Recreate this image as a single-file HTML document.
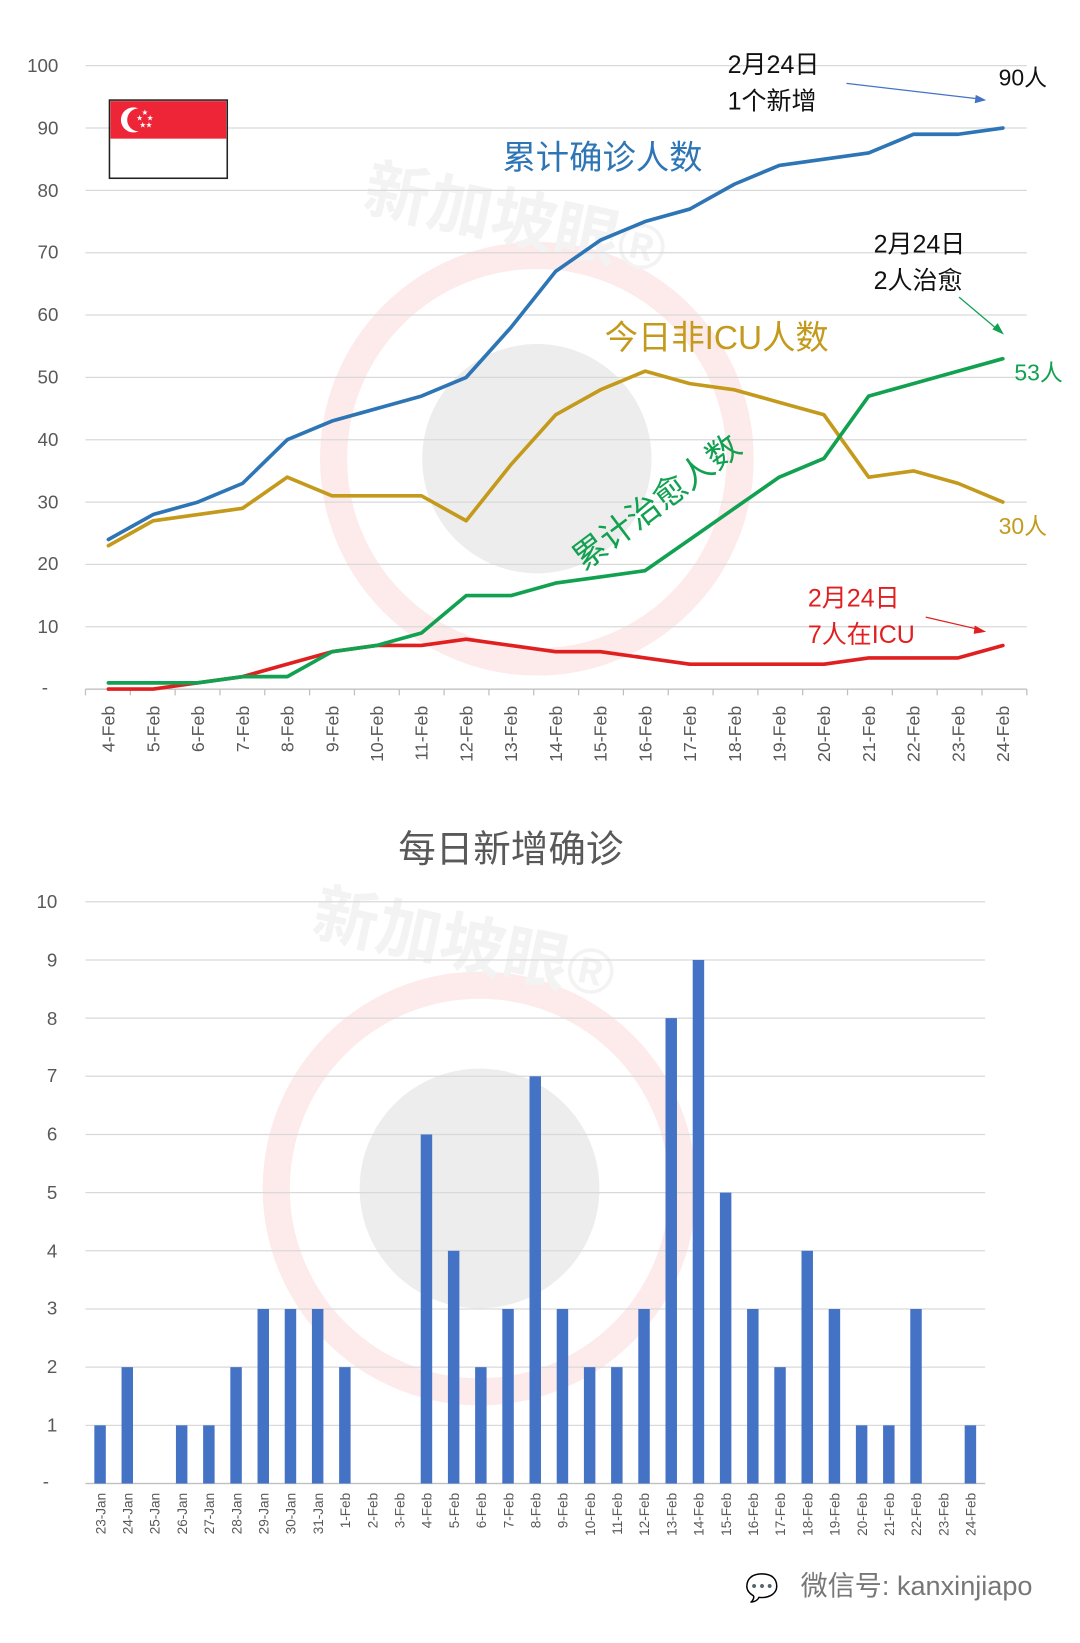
<!DOCTYPE html>
<html><head><meta charset="utf-8"><style>
html,body{margin:0;padding:0;background:#fff}
svg{display:block}
text{font-family:"Liberation Sans","Noto Sans CJK SC",sans-serif}
</style></head><body>
<svg id="s" width="1080" height="1643" viewBox="0 0 1036 1576" preserveAspectRatio="none" xmlns="http://www.w3.org/2000/svg">
<rect width="1036" height="1576" fill="#fff"/>
<!-- watermarks -->
<circle cx="515" cy="440" r="195" fill="none" stroke="#fdeaea" stroke-width="26"/>
<circle cx="515" cy="440" r="110" fill="#ededed"/>
<circle cx="460" cy="1140" r="195" fill="none" stroke="#fdeaea" stroke-width="26"/>
<circle cx="460" cy="1140" r="115" fill="#ededed"/>
<text x="350" y="235" font-size="62" font-weight="bold" fill="#f3f3f3" transform="rotate(12 510 200)">新加坡眼®</text>
<text x="300" y="930" font-size="62" font-weight="bold" fill="#f3f3f3" transform="rotate(12 460 900)">新加坡眼®</text>
<g id="grid" stroke="#d9d9d9" stroke-width="1.2"></g>
<g font-size="18" fill="#595959" text-anchor="end">
<text x="56" y="69">100</text><text x="56" y="129">90</text><text x="56" y="189">80</text><text x="56" y="248">70</text><text x="56" y="308">60</text><text x="56" y="368">50</text><text x="56" y="428">40</text><text x="56" y="488">30</text><text x="56" y="547">20</text><text x="56" y="607">10</text><text x="46" y="665">-</text>
</g>
<g id="xl1" font-size="17" fill="#595959" text-anchor="end"></g>
<!-- flag -->
<rect x="105" y="96" width="113" height="75" fill="#fff" stroke="#222" stroke-width="1.5"/>
<rect x="106" y="97" width="111" height="36" fill="#ee2536"/>
<circle cx="128" cy="115" r="12" fill="#fff"/><circle cx="133" cy="115" r="11" fill="#ee2536"/>
<g fill="#fff" font-size="6"><text x="136" y="110">★</text><text x="141" y="115">★</text><text x="131" y="115">★</text><text x="134" y="122">★</text><text x="140" y="122">★</text></g>
<g id="lines" fill="none" stroke-width="3" stroke-linejoin="round" stroke-linecap="round"></g>
<!-- annotations -->
<g font-size="24" fill="#111">
<text x="698" y="70">2月24日</text><text x="698" y="105">1个新增</text>
<text x="958" y="82" font-size="22">90人</text>
<text x="838" y="242">2月24日</text><text x="838" y="277">2人治愈</text>
</g>
<line x1="812" y1="80" x2="940" y2="95" stroke="#4472c4" stroke-width="1.2"/><polygon points="946,96 936,91 935,99" fill="#4472c4"/>
<line x1="920" y1="285" x2="958" y2="317" stroke="#12a150" stroke-width="1.2"/><polygon points="963,321 952,316 957,310" fill="#12a150"/>
<line x1="888" y1="592" x2="940" y2="604" stroke="#e02020" stroke-width="1.2"/><polygon points="946,606 935,600 934,608" fill="#e02020"/>
<text x="482" y="162" font-size="32" fill="#2e75b6">累计确诊人数</text>
<text x="580" y="335" font-size="32" fill="#c49a1c">今日非ICU人数</text>
<text x="973" y="365" font-size="22" fill="#12a150">53人</text>
<text x="958" y="512" font-size="22" fill="#c49a1c">30人</text>
<text x="775" y="582" font-size="24" fill="#e02020">2月24日</text><text x="775" y="617" font-size="24" fill="#e02020">7人在ICU</text>
<text x="560" y="548" font-size="32" fill="#12a150" transform="rotate(-37 560 548)">累计治愈人数</text>
<!-- bottom -->
<text x="490" y="827" font-size="36" fill="#595959" text-anchor="middle">每日新增确诊</text>
<g font-size="18" fill="#595959" text-anchor="middle">
<text x="45" y="871">10</text><text x="50" y="927">9</text><text x="50" y="983">8</text><text x="50" y="1038">7</text><text x="50" y="1094">6</text><text x="50" y="1150">5</text><text x="50" y="1206">4</text><text x="50" y="1261">3</text><text x="50" y="1317">2</text><text x="50" y="1373">1</text><text x="44" y="1427">-</text>
</g>
<g id="bars" fill="#4472c4"></g>
<g id="xl2" font-size="13" fill="#595959" text-anchor="end"></g>
<text x="715" y="1532" font-size="26" fill="#888">💬</text>
<text x="768" y="1530" font-size="26" fill="#777">微信号: kanxinjiapo</text>
</svg>
<script>
var NS="http://www.w3.org/2000/svg";
function el(t,a,p,txt){var e=document.createElementNS(NS,t);for(var k in a)e.setAttribute(k,a[k]);if(txt)e.textContent=txt;document.getElementById(p).appendChild(e);}
for(var i=0;i<=10;i++){var y=661-i*59.8;el("line",{x1:82,x2:985,y1:y,y2:y},"grid");}
for(var i=0;i<=10;i++){var y=1423-i*55.8;el("line",{x1:82,x2:945,y1:y,y2:y},"grid");}
el("line",{x1:82,x2:985,y1:661,y2:661,stroke:"#bfbfbf"},"grid");
for(var i=0;i<=21;i++){var x=82+i*43;el("line",{x1:x,x2:x,y1:661,y2:667,stroke:"#bfbfbf"},"grid");}
var d1=[];for(var i=4;i<=24;i++)d1.push(i+"-Feb");
d1.forEach(function(t,i){var x=104+i*42.9+6;el("text",{x:x,y:677,transform:"rotate(-90 "+x+" 677)"},"xl1",t);});
var S={"#2e75b6":[24,28,30,33,40,43,45,47,50,58,67,72,75,77,81,84,85,86,89,89,90],
"#c49a1c":[23,27,28,29,34,31,31,31,27,36,44,48,51,49,48,46,44,34,35,33,30],
"#e02020":[0,0,1,2,4,6,7,7,8,7,6,6,5,4,4,4,4,5,5,5,7],
"#12a150":[1,1,1,2,2,6,7,9,15,15,17,18,19,24,29,34,37,47,49,51,53]};
for(var c in S){var p=S[c].map(function(v,i){return (104+i*42.9)+","+(661-v*5.98)}).join(" ");
el("polyline",{points:p,stroke:c,"stroke-width":3.5},"lines");}
var B=[1,2,0,1,1,2,3,3,3,2,0,0,6,4,2,3,7,3,2,2,3,8,9,5,3,2,4,3,1,1,3,0,1];
var d2=[];for(var i=23;i<=31;i++)d2.push(i+"-Jan");for(var i=1;i<=24;i++)d2.push(i+"-Feb");
el("line",{x1:82,x2:945,y1:1423,y2:1423,stroke:"#bfbfbf"},"grid");
B.forEach(function(v,i){var x=96+i*26.09;if(v)el("rect",{x:x-5.5,y:1423-v*55.8,width:11,height:v*55.8},"bars");
var tx=x+5;el("text",{x:tx,y:1432,transform:"rotate(-90 "+tx+" 1432)"},"xl2",d2[i]);});
</script>
</body></html>
